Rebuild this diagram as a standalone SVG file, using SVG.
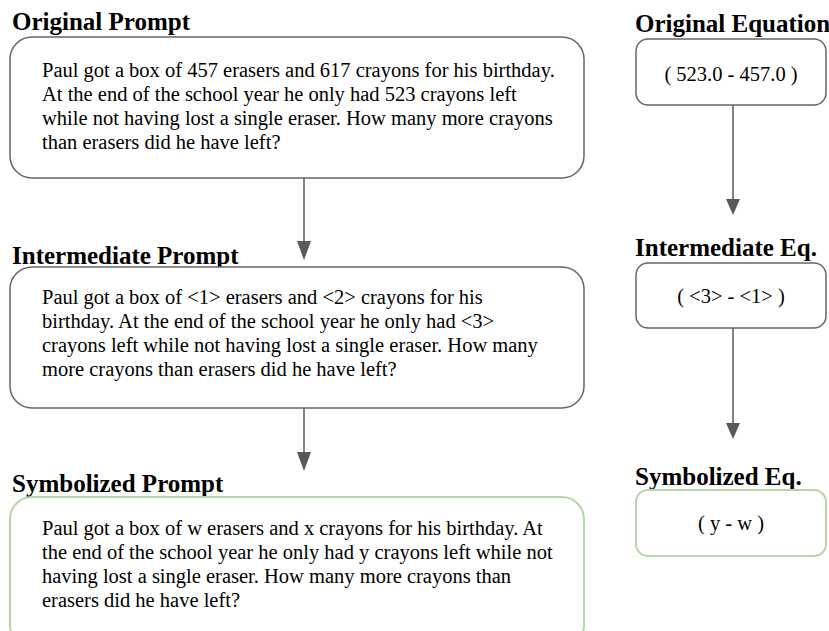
<svg xmlns="http://www.w3.org/2000/svg" width="829" height="631" viewBox="0 0 829 631">
<defs>
<style>
.title{font-family:"Liberation Serif","Times New Roman",serif;font-weight:bold;font-size:25px;fill:#000}
.body{font-family:"Liberation Serif","Times New Roman",serif;font-size:20.5px;fill:#000}
.eq{font-family:"Liberation Serif","Times New Roman",serif;font-size:20.5px;fill:#000;text-anchor:middle}
.box{fill:#fff;stroke:#666;stroke-width:1.5}
.gbox{fill:#fff;stroke:#b7d6a6;stroke-width:2}
.conn{stroke:#595959;stroke-width:1.5;fill:none}
.head{fill:#595959}
</style>
</defs>
<rect width="829" height="631" fill="#fff"/>

<g id="connectors">
<line class="conn" x1="304" y1="178" x2="304" y2="242"/>
<path class="head" d="M297,241 L311,241 L304,260 z"/>
<line class="conn" x1="304" y1="408" x2="304" y2="453"/>
<path class="head" d="M297,452 L311,452 L304,471 z"/>
<line class="conn" x1="733" y1="105" x2="733" y2="200"/>
<path class="head" d="M726,199 L740,199 L733,215 z"/>
<line class="conn" x1="733" y1="328" x2="733" y2="424"/>
<path class="head" d="M726,423 L740,423 L733,439 z"/>
</g>

<g id="original-prompt">
<text class="title" x="12" y="30">Original Prompt</text>
<rect class="box" x="10" y="37" width="574" height="141" rx="22"/>
<text class="body" x="42" y="77">Paul got a box of 457 erasers and 617 crayons for his birthday.</text>
<text class="body" x="42" y="101">At the end of the school year he only had 523 crayons left</text>
<text class="body" x="42" y="125">while not having lost a single eraser. How many more crayons</text>
<text class="body" x="42" y="149">than erasers did he have left?</text>
</g>

<g id="intermediate-prompt">
<text class="title" x="12" y="264">Intermediate Prompt</text>
<rect class="box" x="10" y="267" width="574" height="141" rx="22"/>
<text class="body" x="42" y="304">Paul got a box of &lt;1&gt; erasers and &lt;2&gt; crayons for his</text>
<text class="body" x="42" y="328">birthday. At the end of the school year he only had &lt;3&gt;</text>
<text class="body" x="42" y="352">crayons left while not having lost a single eraser. How many</text>
<text class="body" x="42" y="376">more crayons than erasers did he have left?</text>
</g>

<g id="symbolized-prompt">
<text class="title" x="12" y="492">Symbolized Prompt</text>
<rect class="gbox" x="10" y="497" width="574" height="150" rx="22"/>
<text class="body" x="42" y="535">Paul got a box of w erasers and x crayons for his birthday. At</text>
<text class="body" x="42" y="559">the end of the school year he only had y crayons left while not</text>
<text class="body" x="42" y="583">having lost a single eraser. How many more crayons than</text>
<text class="body" x="42" y="607">erasers did he have left?</text>
</g>

<g id="original-equation">
<text class="title" x="635" y="32">Original Equation</text>
<rect class="box" x="636" y="39" width="190" height="66" rx="12"/>
<text class="eq" x="731" y="81">( 523.0 - 457.0 )</text>
</g>

<g id="intermediate-eq">
<text class="title" x="635" y="256">Intermediate Eq.</text>
<rect class="box" x="636" y="263" width="190" height="65" rx="12"/>
<text class="eq" x="731" y="303">( &lt;3&gt; - &lt;1&gt; )</text>
</g>

<g id="symbolized-eq">
<text class="title" x="635" y="485">Symbolized Eq.</text>
<rect class="gbox" x="636" y="490" width="190" height="66" rx="12"/>
<text class="eq" x="731" y="530">( y - w )</text>
</g>
</svg>
